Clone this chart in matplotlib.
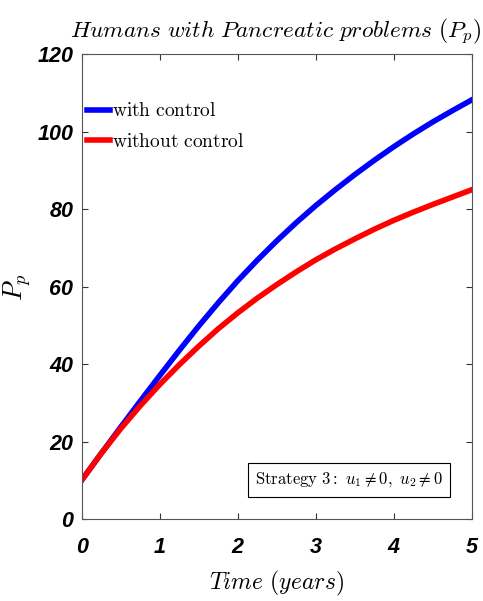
import numpy as np
import matplotlib.pyplot as plt

plt.rcParams['mathtext.fontset'] = 'cm'

t = [0, 0.25, 0.5, 0.75, 1, 1.25, 1.5, 1.75, 2, 2.25, 2.5, 2.75, 3,
     3.25, 3.5, 3.75, 4, 4.25, 4.5, 4.75, 5]
with_ctrl = [10, 16.9, 23.7, 30.4, 37.0, 43.5, 49.8, 55.8, 61.5, 66.8, 71.8, 76.5, 80.9,
             85.0, 88.9, 92.6, 96.1, 99.4, 102.5, 105.4, 108.2]
without_ctrl = [10, 16.9, 23.3, 29.2, 34.7, 39.8, 44.6, 49.1, 53.2, 57.0, 60.5, 63.8, 66.9,
                69.7, 72.3, 74.8, 77.1, 79.2, 81.2, 83.1, 85.0]
xticks = [0, 1, 2, 3, 4, 5]
yticks = [0, 20, 40, 60, 80, 100, 120]

fig = plt.figure(figsize=(4.83, 6.01), dpi=100)
ax = fig.add_axes([0.169, 0.1364, 0.808, 0.7736])

ax.plot(t, with_ctrl, color='#0000ff', lw=4, label=r'$\mathrm{with\ control}$')
ax.plot(t, without_ctrl, color='#ff0000', lw=4, label=r'$\mathrm{without\ control}$')

ax.set_xlim(0, 5)
ax.set_ylim(0, 120)
ax.set_xticks(xticks)
ax.set_yticks(yticks)

tickfont = dict(family=['Liberation Sans', 'DejaVu Sans'], weight='bold', style='italic', size=15.5)
ax.set_xticklabels([str(v) for v in xticks], **tickfont)
ax.set_yticklabels([str(v) for v in yticks], **tickfont)
ax.tick_params(direction='in', top=True, right=True, length=4, width=0.8, color='#333333')
ax.tick_params(axis='x', pad=13)
ax.tick_params(axis='y', pad=6)
for s in ax.spines.values():
    s.set_color('#555555')
    s.set_linewidth(0.8)

ax.set_title(r'$Humans\ with\ Pancreatic\ problems\ (P_p)$', fontsize=16.8, pad=12, x=0.497)
ax.set_xlabel(r'$Time\ (years)$', fontsize=17, labelpad=8)
ax.set_ylabel(r'$P_p$', fontsize=19)
ax.yaxis.set_label_coords(-0.125, 0.5)

ax.legend(loc='upper left', bbox_to_anchor=(-0.005, 0.915), frameon=False, fontsize=14,
          handlelength=1.15, handletextpad=0.1, labelspacing=0.6, borderaxespad=0)

ax.text(0.685, 0.084, r'$\mathrm{Strategy\ 3:}\ u_1 \neq 0,\ u_2 \neq 0$', transform=ax.transAxes,
        ha='center', va='center', fontsize=12,
        bbox=dict(boxstyle='square,pad=0.45', fc='white', ec='black', lw=0.8))

fig.savefig('out.png', dpi=100)
